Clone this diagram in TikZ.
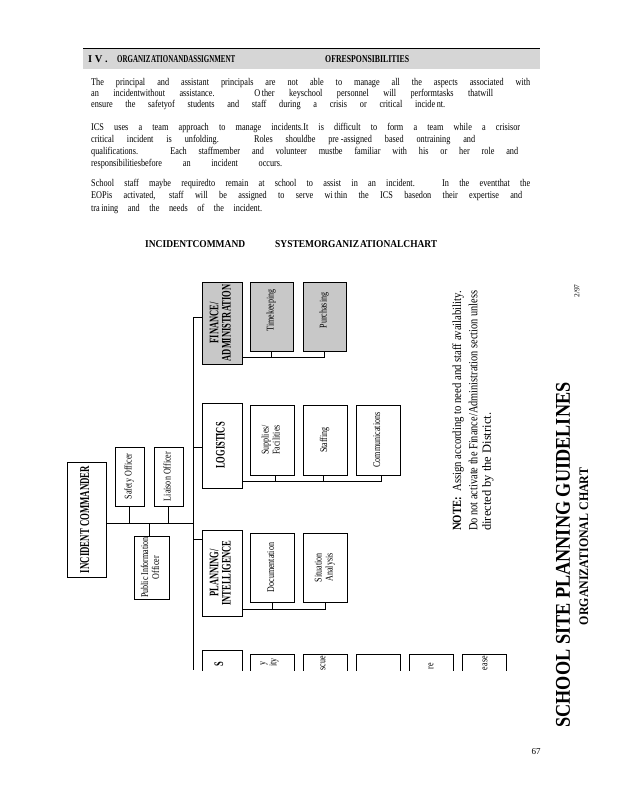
\documentclass[tikz,border=0pt]{standalone}
\usepackage{fontspec}
\usepackage{graphicx}
\setmainfont{Liberation Serif}
\newfontfamily\condf[FakeStretch=0.8]{Liberation Serif}
\newfontfamily\chartf[FakeStretch=0.65]{Liberation Serif}
\newfontfamily\smallf[FakeStretch=0.78]{Liberation Serif}
\newcommand\fw[2]{\resizebox{#1pt}{\height}{#2}}
\newcommand\rt[1]{\rotatebox{90}{\begin{tabular}{@{}c@{}}#1\end{tabular}}}
\newcommand\hdfont{\chartf\bfseries\fontsize{13}{12}\selectfont}
\newcommand\smfont{\smallf\fontsize{10.3}{11}\selectfont}
\definecolor{barg}{HTML}{D6D6D6}
\definecolor{boxg}{HTML}{C8C8C8}
\tikzset{
  box/.style={draw, line width=1pt, inner sep=0pt, align=center},
  gbox/.style={box, fill=boxg},
  hbox/.style={box, font=\hdfont},
  sbox/.style={box, font=\smfont},
  conn/.style={line width=1pt},
  para/.style={anchor=base west, inner sep=0pt, font=\condf\fontsize{10.3}{11}\selectfont},
  hdr/.style={anchor=base west, inner sep=0pt, font=\bfseries\fontsize{10.5}{11}\selectfont},
  frag/.style={rotate=90, anchor=east, inner sep=0pt, font=\smfont},
}
\begin{document}
\begin{tikzpicture}[x=1pt,y=-1pt]
\useasboundingbox (0,0) rectangle (618,800);
\fill[white] (0,0) rectangle (618,800);

% header bar
\fill[barg] (83,49) rectangle (540,69);
\draw[line width=1pt] (83,49) -- (540,49);
\node[hdr] (h1) at (88,63) {I V .};
\node[hdr] (h2) at (117,63) {\fw{118}{ORGANIZ\kern1pt ATIONANDASSIGNMENT}};
\node[hdr] (h3) at (325,63) {\fw{84}{OFRESPONSIBILITIES}};

% paragraphs
\node[para] (p11) at (91,85) {\makebox[439pt][s]{The principal and assistant principals are not able to manage all the aspects associated with}};
\node[para] (p12) at (91,96) {\makebox[402pt][s]{an incidentwithout assistance. O\kern1.5pt ther keyschool personnel will performtasks thatwill}};
\node[para] (p13) at (91,107) {\makebox[354pt][s]{ensure the safetyof students and staff during a crisis or critical incide\kern1.5pt nt.}};
\node[para] (p21) at (91,130) {\makebox[429pt][s]{ICS uses a team approach to manage incidents.It is difficult to form a team while a crisisor}};
\node[para] (p22) at (91,142) {\makebox[384pt][s]{critical incident is unfolding. Roles shouldbe pre\kern2pt -assigned based ontraining and}};
\node[para] (p23) at (91,154) {\makebox[427pt][s]{qualifications. Each staffmember and volunteer mustbe familiar with his or her role and}};
\node[para] (p24) at (91,166) {\makebox[191pt][s]{responsibilitiesbefore an incident occurs.}};
\node[para] (p31) at (91,186) {\makebox[439pt][s]{School staff maybe requiredto remain at school to assist in an incident. In the eventthat the}};
\node[para] (p32) at (91,198) {\makebox[431pt][s]{EOPis activated, staff will be assigned to serve wi\kern1.5pt thin the ICS basedon their expertise and}};
\node[para] (p33) at (91,211) {\makebox[171pt][s]{tra\kern1.5pt ining and the needs of the incident.}};

% chart title
\node[hdr] (ct1) at (145,247) {\fw{100}{INCIDENTCOMMAND}};
\node[hdr] (ct2) at (275,247) {\fw{162}{SYSTEMORGANIZ\kern1pt ATIONALCHART}};

% finance
\node[gbox, font=\hdfont, minimum width=40pt, minimum height=82pt] (fin) at (222,323) {\rt{FINANCE/\\ADMINISTRATION}};
\node[gbox, font=\smfont, minimum width=43pt, minimum height=69pt] (time) at (271.5,316.5) {\rt{\hspace{12pt}Timekeeping}};
\node[gbox, font=\smfont, minimum width=43pt, minimum height=69pt] (purch) at (324.5,316.5) {\rt{\hspace{12pt}Purchasing}};

% logistics
\node[hbox, minimum width=40pt, minimum height=85pt] (log) at (222,445.5) {\rt{LOGISTICS}};
\node[sbox, minimum width=44pt, minimum height=70pt] (sup) at (272,440) {\rt{Supplies/\\Facilities}};
\node[sbox, minimum width=44pt, minimum height=70pt] (staff) at (325,440) {\rt{Staffing}};
\node[sbox, minimum width=44pt, minimum height=70pt] (comm) at (378,440) {\rt{Communications}};

% planning
\node[hbox, minimum width=40pt, minimum height=86pt] (plan) at (222,573) {\rt{PLANNING/\\INTELLIGENCE}};
\node[sbox, minimum width=44pt, minimum height=69pt] (doc) at (272,567.5) {\rt{Documentation}};
\node[sbox, minimum width=44pt, minimum height=69pt] (sit) at (325,567.5) {\rt{Situation\\Analysis}};

% command staff
\node[box, font=\chartf\bfseries\fontsize{13.5}{13}\selectfont, minimum width=39pt, minimum height=115pt] (ic) at (86.5,519.5) {\rt{INCIDENT COMMANDER}};
\node[sbox, minimum width=29pt, minimum height=59pt] (safe) at (129.5,476.5) {\rt{Safety Officer}};
\node[sbox, minimum width=29pt, minimum height=59pt] (liai) at (168.5,476.5) {\rt{Liaison Officer}};
\node[sbox, minimum width=35pt, minimum height=63pt] (pio) at (151.5,567.5) {\rt{Public Information\\Officer}};

% connectors
\coordinate (tTop) at (193,317);
\coordinate (tBot) at (193,670);
\coordinate (ich) at (106,523);
\coordinate (pst) at (193,539);
\coordinate (lst) at (193,447);
\coordinate (fbus) at (242,357);
\coordinate (lbus) at (242,481);
\coordinate (pbus) at (242,609);

\draw[conn] (tTop) -- (tTop -| fin.west);
\draw[conn] (lst) -- (lst -| log.west);
\draw[conn] (pst) -- (pst -| plan.west);
\draw[conn] (ich -| ic.east) -- (ich -| tTop);
\draw[conn] (safe.south) -- (safe.south |- ich);
\draw[conn] (liai.south) -- (liai.south |- ich);
\draw[conn] (pio.north -| 149,0) -- (ich -| 149,0);

\draw[conn] (fbus -| fin.east) -- (fbus -| purch.south) -- (purch.south);
\draw[conn] (time.south) -- (time.south |- fbus);
\draw[conn] (lbus -| log.east) -- (lbus -| 381,0) -- (comm.south -| 381,0);
\draw[conn] (sup.south -| 275,0) -- (lbus -| 275,0);
\draw[conn] (staff.south -| 323,0) -- (lbus -| 323,0);
\draw[conn] (pbus -| plan.east) -- (pbus -| sit.south) -- (sit.south);
\draw[conn] (doc.south) -- (doc.south |- pbus);

% clipped bottom part
\begin{scope}
\clip (0,0) rectangle (618,670);
\draw[conn] (tTop) -- (tBot);
\node[hbox, minimum width=40pt, minimum height=80pt] (ops) at (222,690) {};
\node[sbox, minimum width=44pt, minimum height=70pt] (b1) at (272,689) {};
\node[sbox, minimum width=44pt, minimum height=70pt] (b2) at (325,689) {};
\node[sbox, minimum width=44pt, minimum height=70pt] (b3) at (378,689) {};
\node[sbox, minimum width=44pt, minimum height=70pt] (b4) at (431,689) {};
\node[sbox, minimum width=44pt, minimum height=70pt] (b5) at (484,689) {};
\node[frag, font=\hdfont] (f0) at (219,662) {S};
\node[frag] (f1) at (264,661) {y};
\node[frag] (f2) at (274,658) {ity};
\node[frag] (f3) at (323,656) {scue};
\node[frag] (f4) at (431,663) {re};
\node[frag] (f5) at (485,656) {ease};
\end{scope}

% note
\node[rotate=90, anchor=west, inner sep=0pt, font=\fontsize{12.5}{12}\selectfont] (n1) at (458,531) {\fw{240}{\textbf{NOTE:}\ \ Assign according to need and staff availability.}};
\node[rotate=90, anchor=west, inner sep=0pt, font=\fontsize{12.5}{12}\selectfont] (n2) at (473,531) {\fw{240}{Do not activate the Finance/Administration section unless}};
\node[rotate=90, anchor=west, inner sep=0pt, font=\fontsize{12.5}{12}\selectfont] (n3) at (488,531) {\fw{118}{directed by the District.}};

% right title
\node[rotate=90, inner sep=0pt, font=\bfseries\fontsize{21}{21}\selectfont] (t1) at (563,555) {\fw{345}{SCHOOL SITE PLANNING GUIDELINES}};
\node[rotate=90, inner sep=0pt, font=\bfseries\fontsize{13}{13}\selectfont] (t2) at (584,546.5) {\fw{157}{ORGANIZATIONAL CHART}};
\node[rotate=90, inner sep=0pt, font=\fontsize{7.5}{8}\selectfont] (t3) at (577,291) {2/97};
\node[inner sep=0pt, font=\fontsize{9}{10}\selectfont] (pg) at (536,752) {67};
\end{tikzpicture}
\end{document}
